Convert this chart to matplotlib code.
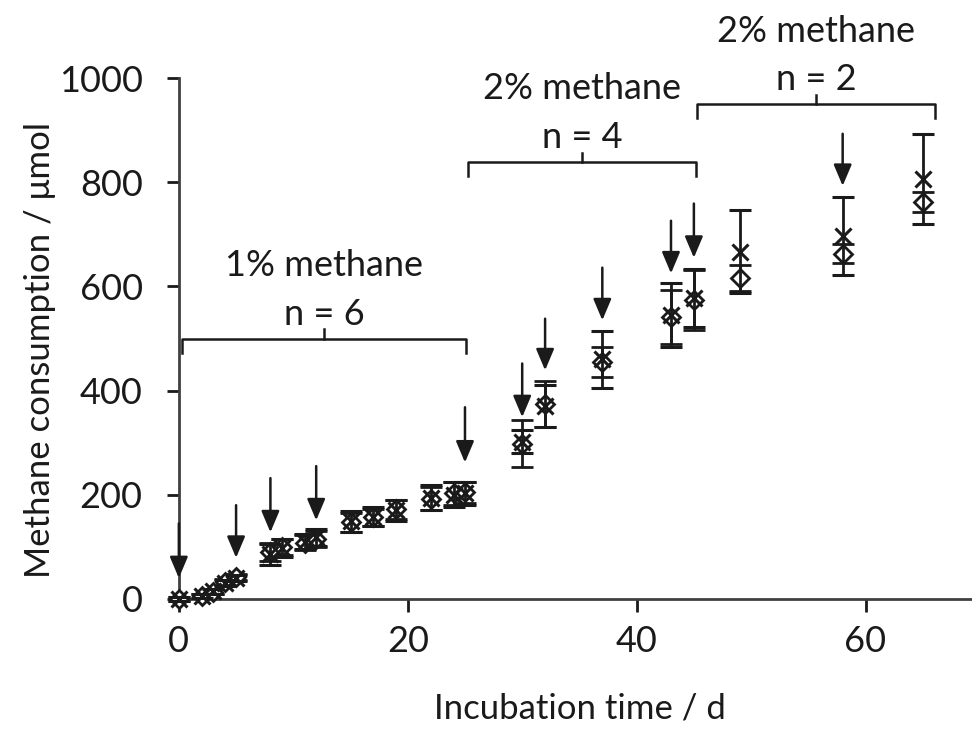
import matplotlib
matplotlib.use("Agg")
import matplotlib.pyplot as plt

plt.rcParams['font.family'] = ['Lato', 'DejaVu Sans']

# Data
days = [0, 2, 3, 4, 5, 8, 9, 11, 12, 15, 17, 19, 22, 24, 25, 30, 32, 37, 43, 45, 49, 58, 65]
diamond = [0, 5, 14, 32, 42, 90, 100, 108, 115, 147, 157, 172, 192, 203, 205, 298, 375, 455, 542, 574, 617, 663, 762]
cross = [0, 5, 15, 30, 40, 86, 98, 110, 118, 149, 158, 170, 194, 200, 203, 302, 370, 460, 545, 578, 667, 697, 806]
diamond_err = [3, 4, 5, 6, 6, 18, 16, 14, 15, 18, 16, 18, 22, 22, 20, 45, 44, 28, 52, 57, 25, 18, 20]
cross_err = [3, 4, 5, 6, 6, 20, 18, 15, 16, 20, 18, 20, 24, 24, 22, 22, 40, 55, 62, 56, 80, 75, 87]

arrow_days = [0, 5, 8, 12, 25, 30, 32, 37, 43, 45, 58]
arrow_tail = [145, 180, 232, 255, 368, 452, 538, 636, 726, 759, 893]
arrow_tip = [40, 79, 128, 151, 262, 349, 439, 535, 625, 655, 793]

bracket_start = [0.3, 25.3, 45.3]
bracket_end = [25.1, 45.2, 66.1]
bracket_level = [500, 839, 950]
bracket_title = ["1% methane", "2% methane", "2% methane"]
bracket_n = ["n = 6", "n = 4", "n = 2"]

x_ticks = [0, 20, 40, 60]
y_ticks = [0, 200, 400, 600, 800, 1000]

fig = plt.figure(figsize=(9.72, 7.30), dpi=100)
ax = fig.add_axes([0.184, 0.1795, 0.816, 0.7136])

col = '#1a1a1a'
fs = 26
ax.errorbar(days, diamond, yerr=diamond_err, fmt='D', mfc='white', mec=col, mew=2,
            ms=9, ecolor=col, elinewidth=2, capsize=8, capthick=2, clip_on=False, zorder=3)
ax.errorbar(days, cross, yerr=cross_err, fmt='x', mec=col, mew=2.2,
            ms=11, ecolor=col, elinewidth=2, capsize=8, capthick=2, clip_on=False, zorder=4)

for d, t0, t1 in zip(arrow_days, arrow_tail, arrow_tip):
    ax.annotate('', xy=(d, t1), xytext=(d, t0),
                arrowprops=dict(arrowstyle='-|>,head_length=1.3,head_width=0.55',
                                color=col, lw=1.8, shrinkA=0, shrinkB=0),
                annotation_clip=False, zorder=5)

drop = 27
for s, e, lv, t, n in zip(bracket_start, bracket_end, bracket_level, bracket_title, bracket_n):
    m = (s + e) / 2
    ax.plot([s, s, e, e], [lv - drop, lv, lv, lv - drop], color=col, lw=1.8,
            clip_on=False, solid_joinstyle='round')
    ax.plot([m, m], [lv, lv + 18], color=col, lw=1.8, clip_on=False)
    ax.text(m, lv + 47, n, ha='center', va='center', fontsize=fs, color=col)
    ax.text(m, lv + 140, t, ha='center', va='center', fontsize=fs, color=col)

ax.set_xlim(0, 69.3)
ax.set_ylim(0, 1000)
ax.set_xticks(x_ticks)
ax.set_yticks(y_ticks)
ax.tick_params(axis='both', labelsize=fs, colors=col, width=2, length=9, direction='out')
ax.tick_params(axis='y', pad=17)
ax.tick_params(axis='x', pad=10)
for sp in ['top', 'right']:
    ax.spines[sp].set_visible(False)
for sp in ['left', 'bottom']:
    ax.spines[sp].set_linewidth(2)
    ax.spines[sp].set_color('#404040')

fig.text(580 / 972, 1 - 708 / 730, 'Incubation time / d', fontsize=25, color=col,
         ha='center', va='center')
fig.text(40 / 972, 1 - 350 / 730, 'Methane consumption / μmol', fontsize=25, color=col,
         ha='center', va='center', rotation=90)

fig.savefig('out.png', dpi=100)
